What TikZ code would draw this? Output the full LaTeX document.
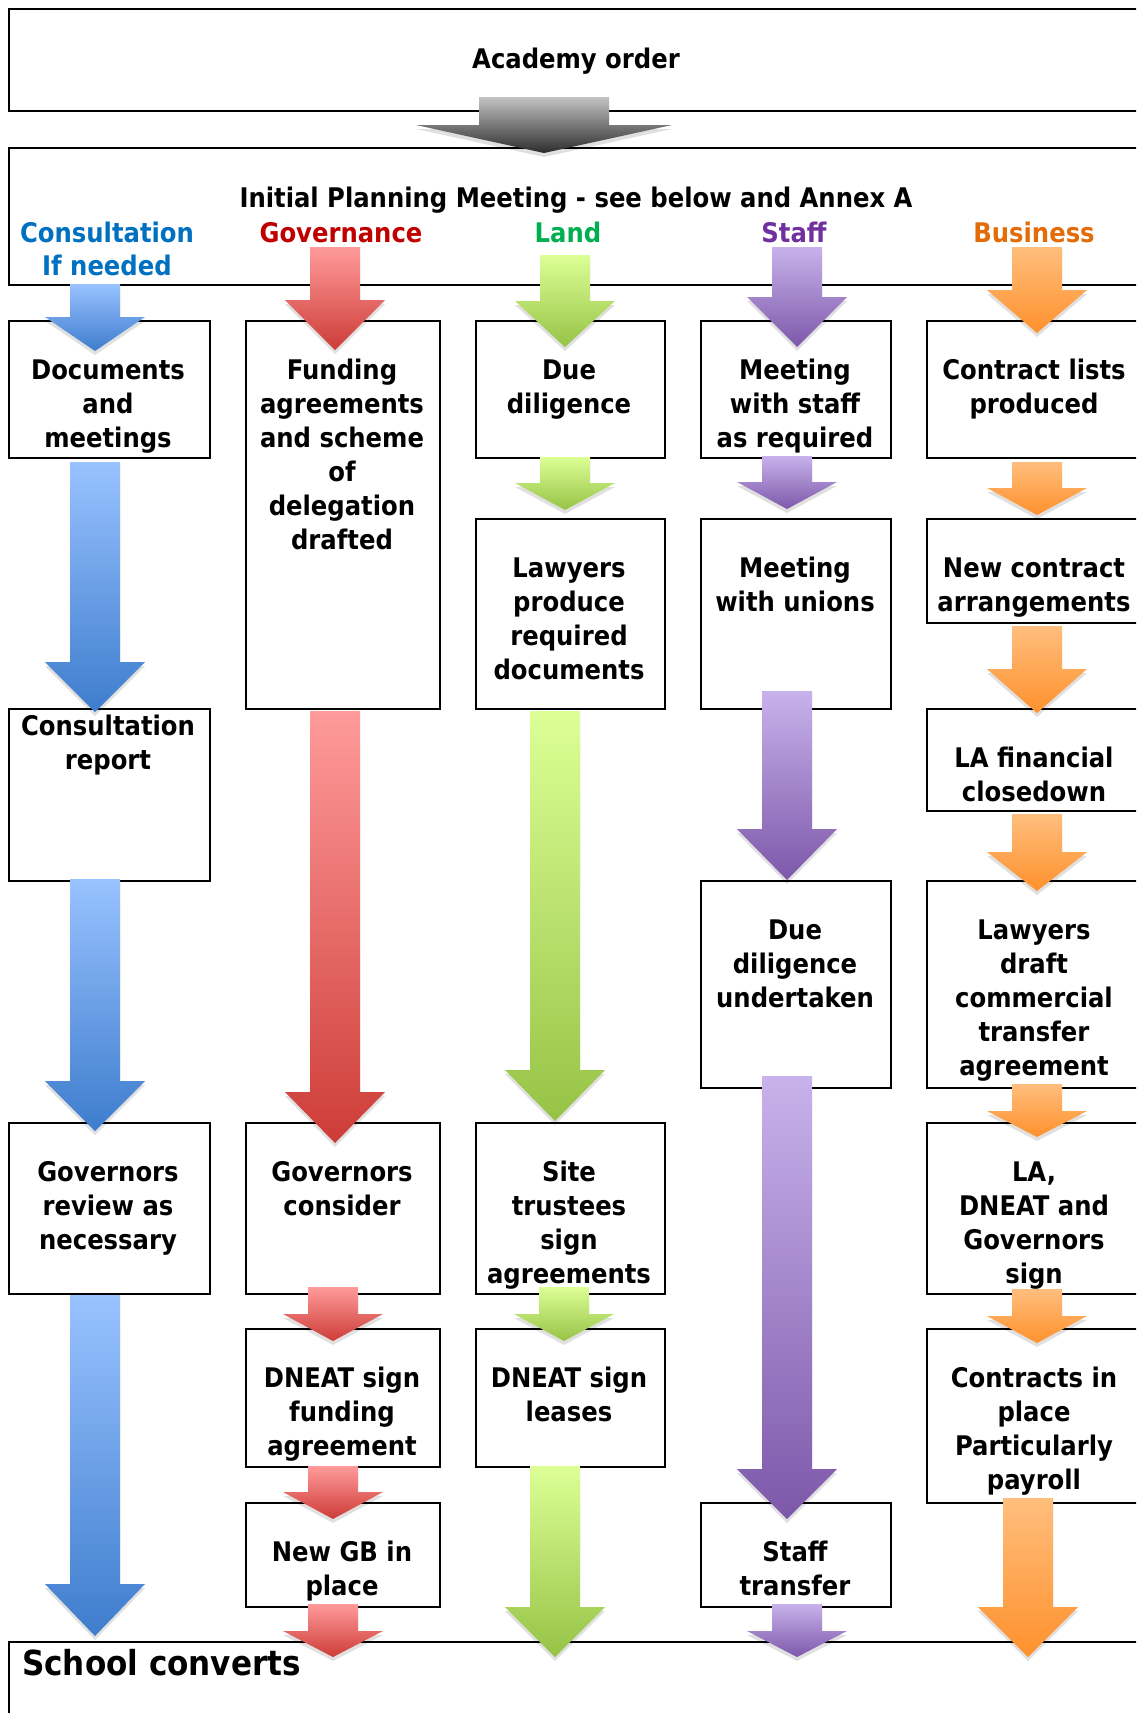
\documentclass[tikz,border=0pt]{standalone}
\usepackage{fontspec}
\usetikzlibrary{shadows}
\newfontfamily\labfont{DejaVu Sans Condensed}[BoldFont={DejaVu Sans Condensed Bold}]
\definecolor{bluetop}{RGB}{153,194,255}
\definecolor{bluebot}{RGB}{62,125,205}
\definecolor{redtop}{RGB}{255,155,155}
\definecolor{redbot}{RGB}{205,60,55}
\definecolor{greentop}{RGB}{221,255,150}
\definecolor{greenbot}{RGB}{150,195,70}
\definecolor{purtop}{RGB}{200,178,235}
\definecolor{purbot}{RGB}{125,88,170}
\definecolor{oratop}{RGB}{255,190,125}
\definecolor{orabot}{RGB}{255,145,45}
\definecolor{graytop}{RGB}{195,195,195}
\definecolor{graybot}{RGB}{45,45,45}
\definecolor{cBlue}{RGB}{0,112,192}
\definecolor{cRed}{RGB}{192,0,0}
\definecolor{cGreen}{RGB}{0,176,80}
\definecolor{cPurple}{RGB}{112,48,160}
\definecolor{cOrange}{RGB}{227,108,9}
% box: name, x0, y0, x1, y1
\newcommand\bx[5]{\node[box, minimum width={#4-#2}, minimum height={#5-#3}] (#1) at (#2,#3) {};}
% block arrow: cx, top, head start, tip, shaft half width, head half width, colour prefix
\newcommand\barrow[7]{\shade[arrowshadow, top color=#7top, bottom color=#7bot] ({#1-#5},#2) -- ({#1+#5},#2) -- ({#1+#5},#3) -- ({#1+#6},#3) -- (#1,#4) -- ({#1-#6},#3) -- ({#1-#5},#3) -- cycle;}
\begin{document}
\begin{tikzpicture}[x=1pt,y=-1pt,
  box/.style={draw=black, line width=2pt, inner sep=0pt, anchor=north west},
  lab/.style={inner sep=0pt, anchor=north, align=center, font=\labfont\bfseries\fontsize{27}{34}\selectfont},
  hdr/.style={inner sep=0pt, anchor=base, font=\labfont\bfseries\fontsize{27}{34}\selectfont},
  arrowshadow/.style={drop shadow={shadow xshift=0pt, shadow yshift=-4pt, opacity=0.12, fill=black}},
]
\clip (0,0) rectangle (1136,1713);
\fill[white] (0,0) rectangle (1136,1713);
% header boxes
\bx{academy}{8}{8}{1145}{110}
\bx{ipm}{8}{147}{1145}{284}
\bx{converts}{8}{1641}{1145}{1730}
% column 1
\bx{c1a}{8}{320}{209}{457}
\bx{c1b}{8}{708}{209}{880}
\bx{c1c}{8}{1122}{209}{1293}
% column 2
\bx{c2a}{245}{320}{439}{708}
\bx{c2b}{245}{1122}{439}{1293}
\bx{c2c}{245}{1328}{439}{1466}
\bx{c2d}{245}{1502}{439}{1606}
% column 3
\bx{c3a}{475}{320}{664}{457}
\bx{c3b}{475}{518}{664}{708}
\bx{c3c}{475}{1122}{664}{1293}
\bx{c3d}{475}{1328}{664}{1466}
% column 4
\bx{c4a}{700}{320}{890}{457}
\bx{c4b}{700}{518}{890}{708}
\bx{c4c}{700}{880}{890}{1087}
\bx{c4d}{700}{1502}{890}{1606}
% column 5
\bx{c5a}{926}{320}{1142}{457}
\bx{c5b}{926}{518}{1142}{622}
\bx{c5c}{926}{708}{1142}{810}
\bx{c5d}{926}{880}{1142}{1087}
\bx{c5e}{926}{1122}{1142}{1293}
\bx{c5f}{926}{1328}{1142}{1502}
% grey arrow
\barrow{544}{97}{125}{153}{65}{128}{gray}
% blue arrows
\barrow{95}{284}{317}{351}{25}{50}{blue}
\barrow{95}{462}{662}{712}{25}{50}{blue}
\barrow{95}{879}{1081}{1131}{25}{50}{blue}
\barrow{95}{1295}{1584}{1636}{25}{50}{blue}
% red arrows
\barrow{335}{247}{300}{350}{25}{50}{red}
\barrow{335}{711}{1092}{1143}{25}{50}{red}
\barrow{333}{1287}{1314}{1341}{25}{50}{red}
\barrow{333}{1466}{1492}{1519}{25}{50}{red}
\barrow{333}{1604}{1631}{1657}{25}{50}{red}
% green arrows
\barrow{565}{255}{301}{347}{25}{50}{green}
\barrow{565}{457}{483}{510}{25}{50}{green}
\barrow{555}{711}{1070}{1121}{25}{50}{green}
\barrow{564}{1287}{1314}{1341}{25}{50}{green}
\barrow{555}{1466}{1607}{1657}{25}{50}{green}
% purple arrows
\barrow{797}{247}{297}{347}{25}{50}{pur}
\barrow{787}{456}{482}{509}{25}{50}{pur}
\barrow{787}{691}{829}{880}{25}{50}{pur}
\barrow{787}{1076}{1469}{1519}{25}{50}{pur}
\barrow{797}{1604}{1631}{1657}{25}{50}{pur}
% orange arrows
\barrow{1037}{247}{290}{333}{25}{50}{ora}
\barrow{1037}{462}{488}{515}{25}{50}{ora}
\barrow{1037}{626}{669}{713}{25}{50}{ora}
\barrow{1037}{814}{852}{891}{25}{50}{ora}
\barrow{1037}{1084}{1111}{1137}{25}{50}{ora}
\barrow{1037}{1289}{1316}{1343}{25}{50}{ora}
\barrow{1028}{1498}{1607}{1657}{25}{50}{ora}
% header texts
\node[hdr] (tacad) at (576,68) {Academy order};
\node[hdr] (tipm) at (576,207) {Initial Planning Meeting - see below and Annex A};
\node[hdr, text=cBlue] (hcons) at (107,242) {Consultation};
\node[hdr, text=cBlue] (hif) at (107,275) {If needed};
\node[hdr, text=cRed] (hgov) at (341,242) {Governance};
\node[hdr, text=cGreen] (hland) at (568,242) {Land};
\node[hdr, text=cPurple] (hstaff) at (794,242) {Staff};
\node[hdr, text=cOrange] (hbus) at (1034,242) {Business};
\node[inner sep=0pt, anchor=base west, font=\labfont\bfseries\fontsize{34.5}{42}\selectfont] (tconv) at (22,1675) {School converts};
% box texts
\node[lab] (t1a) at (108,357) {\rule{0pt}{22pt}Documents\\and\\meetings};
\node[lab] (t1b) at (108,713) {\rule{0pt}{22pt}Consultation\\report};
\node[lab] (t1c) at (108,1159) {\rule{0pt}{22pt}Governors\\review as\\necessary};
\node[lab] (t2a) at (342,357) {\rule{0pt}{22pt}Funding\\agreements\\and scheme\\of\\delegation\\drafted};
\node[lab] (t2b) at (342,1159) {\rule{0pt}{22pt}Governors\\consider};
\node[lab] (t2c) at (342,1365) {\rule{0pt}{22pt}DNEAT sign\\funding\\agreement};
\node[lab] (t2d) at (342,1539) {\rule{0pt}{22pt}New GB in\\place};
\node[lab] (t3a) at (569,357) {\rule{0pt}{22pt}Due\\diligence};
\node[lab] (t3b) at (569,555) {\rule{0pt}{22pt}Lawyers\\produce\\required\\documents};
\node[lab] (t3c) at (569,1159) {\rule{0pt}{22pt}Site\\trustees\\sign\\agreements};
\node[lab] (t3d) at (569,1365) {\rule{0pt}{22pt}DNEAT sign\\leases};
\node[lab] (t4a) at (795,357) {\rule{0pt}{22pt}Meeting\\with staff\\as required};
\node[lab] (t4b) at (795,555) {\rule{0pt}{22pt}Meeting\\with unions};
\node[lab] (t4c) at (795,917) {\rule{0pt}{22pt}Due\\diligence\\undertaken};
\node[lab] (t4d) at (795,1539) {\rule{0pt}{22pt}Staff\\transfer};
\node[lab] (t5a) at (1034,357) {\rule{0pt}{22pt}Contract lists\\produced};
\node[lab] (t5b) at (1034,555) {\rule{0pt}{22pt}New contract\\arrangements};
\node[lab] (t5c) at (1034,745) {\rule{0pt}{22pt}LA financial\\closedown};
\node[lab] (t5d) at (1034,917) {\rule{0pt}{22pt}Lawyers\\draft\\commercial\\transfer\\agreement};
\node[lab] (t5e) at (1034,1159) {\rule{0pt}{22pt}LA,\\DNEAT and\\Governors\\sign};
\node[lab] (t5f) at (1034,1365) {\rule{0pt}{22pt}Contracts in\\place\\Particularly\\payroll};
\end{tikzpicture}
\end{document}
